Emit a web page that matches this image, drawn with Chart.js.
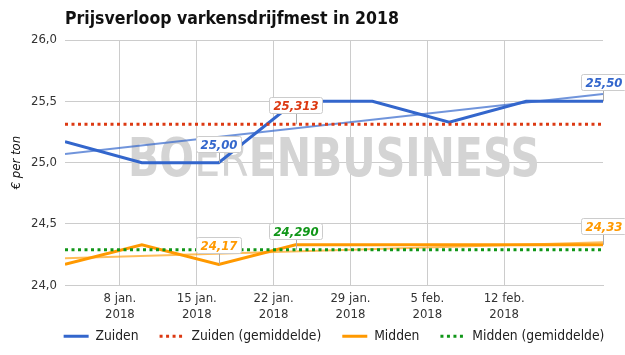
<!DOCTYPE html>
<html>
<head>
<meta charset="utf-8">
<script src="https://cdn.jsdelivr.net/npm/chart.js@4.4.1/dist/chart.umd.min.js"></script>
<style>
  html, body { margin: 0; padding: 0; background: #fff; }
  #wrap { width: 625px; height: 355px; }
</style>
</head>
<body>
<div id="wrap"><canvas id="chart"></canvas></div>
<script>
const FONT = '"DejaVu Sans Condensed", "DejaVu Sans", sans-serif';

// dagnummer in 2018 (1 = 1 jan.), wekelijkse noteringen
const weekDays = [3, 10, 17, 24, 31, 38, 45, 52];
const zuiden = [25.17, 25.00, 25.00, 25.50, 25.50, 25.33, 25.50, 25.50];
const midden = [24.17, 24.33, 24.17, 24.33, 24.33, 24.33, 24.33, 24.33];
const zuidenGem = 25.313;
const middenGem = 24.290;
const zuidenTrend = [25.07, 25.56];
const middenTrend = [24.22, 24.35];

const tickDays = [8, 15, 22, 29, 36, 43];
const tickLabels = [['8 jan.', '2018'], ['15 jan.', '2018'], ['22 jan.', '2018'], ['29 jan.', '2018'], ['5 feb.', '2018'], ['12 feb.', '2018']];

const colors = {
  zuiden: '#3366cc',
  zuidenGem: '#dc3912',
  midden: '#ff9900',
  middenGem: '#109618',
};

const first = weekDays[0];
const last = weekDays[weekDays.length - 1];
const toPoints = values => values.map((v, i) => ({ x: weekDays[i], y: v }));

// labels met waarde bij enkele punten
const callouts = [
  { day: weekDays[2], value: zuiden[2], decimals: 2, color: colors.zuiden },
  { day: weekDays[7], value: zuiden[7], decimals: 2, color: colors.zuiden },
  { day: weekDays[3], value: zuidenGem, decimals: 3, color: colors.zuidenGem },
  { day: weekDays[2], value: midden[2], decimals: 2, color: colors.midden },
  { day: weekDays[7], value: midden[7], decimals: 2, color: colors.midden },
  { day: weekDays[3], value: middenGem, decimals: 3, color: colors.middenGem },
];

const watermark = {
  id: 'watermark',
  beforeDatasetsDraw(chart) {
    const { ctx, chartArea } = chart;
    const parts = [['BO', 'bold'], ['ER', 'normal'], ['ENBUSINESS', 'bold']];
    ctx.save();
    let total = 0;
    parts.forEach(p => {
      ctx.font = `${p[1]} 54px ${FONT}`;
      total += ctx.measureText(p[0]).width;
    });
    const sx = 412 / total;
    const cx = (chartArea.left + chartArea.right) / 2;
    ctx.translate(cx - 206, 162);
    ctx.scale(sx, 1);
    ctx.fillStyle = '#d4d4d4';
    ctx.textBaseline = 'middle';
    let x = 0;
    parts.forEach(p => {
      ctx.font = `${p[1]} 54px ${FONT}`;
      ctx.fillText(p[0], x, 0);
      x += ctx.measureText(p[0]).width;
    });
    ctx.restore();
  },
};

const calloutPlugin = {
  id: 'callouts',
  afterDatasetsDraw(chart) {
    const { ctx } = chart;
    const xs = chart.scales.x;
    const ys = chart.scales.y;
    ctx.save();
    ctx.font = `italic bold 13px ${FONT}`;
    ctx.textAlign = 'center';
    ctx.textBaseline = 'middle';
    callouts.forEach(c => {
      const px = xs.getPixelForValue(c.day);
      const py = ys.getPixelForValue(c.value);
      const text = c.value.toFixed(c.decimals).replace('.', ',');
      const w = Math.round(ctx.measureText(text).width + 8);
      const h = 16;
      const bx = Math.round(px - w / 2) + 0.5;
      const by = Math.round(py - 11 - h) + 0.5;
      ctx.strokeStyle = '#aaa';
      ctx.lineWidth = 1;
      ctx.beginPath();
      ctx.moveTo(Math.round(px) + 0.5, by + h);
      ctx.lineTo(Math.round(px) + 0.5, py);
      ctx.stroke();
      ctx.fillStyle = '#fff';
      ctx.strokeStyle = '#ccc';
      ctx.beginPath();
      ctx.roundRect(bx, by, w, h, 2);
      ctx.fill();
      ctx.stroke();
      ctx.fillStyle = c.color;
      ctx.fillText(text, bx + w / 2, by + h / 2 + 1);
    });
    ctx.restore();
  },
};

// legenda centreren onder het plotvlak, x-as labels niet afknippen
const layoutFix = {
  id: 'layoutFix',
  afterLayout(chart) {
    const { chartArea, legend } = chart;
    const dx = (chartArea.left + chartArea.right) / 2 - (legend.left + legend.right) / 2;
    legend.left += dx;
    legend.right += dx;
    chart.scales.x.bottom += 20;
  },
};

new Chart(document.getElementById('chart').getContext('2d'), {
  type: 'line',
  data: {
    datasets: [{
      label: 'Zuiden',
      data: toPoints(zuiden),
      borderColor: colors.zuiden,
      borderWidth: 3,
      order: 4,
    }, {
      label: 'Zuiden (gemiddelde)',
      data: [{ x: first, y: zuidenGem }, { x: last, y: zuidenGem }],
      borderColor: colors.zuidenGem,
      borderWidth: 3,
      borderDash: [3, 3.5],
      order: 3,
    }, {
      label: 'Midden',
      data: toPoints(midden),
      borderColor: colors.midden,
      borderWidth: 3,
      order: 2,
    }, {
      label: 'Midden (gemiddelde)',
      data: [{ x: first, y: middenGem }, { x: last, y: middenGem }],
      borderColor: colors.middenGem,
      borderWidth: 3,
      borderDash: [3, 3.5],
      order: 1,
    }, {
      label: 'trend-zuiden',
      data: [{ x: first, y: zuidenTrend[0] }, { x: last, y: zuidenTrend[1] }],
      borderColor: 'rgba(51, 102, 204, 0.7)',
      borderWidth: 2,
      order: 6,
    }, {
      label: 'trend-midden',
      data: [{ x: first, y: middenTrend[0] }, { x: last, y: middenTrend[1] }],
      borderColor: 'rgba(255, 153, 0, 0.65)',
      borderWidth: 2,
      order: 5,
    }],
  },
  options: {
    responsive: true,
    maintainAspectRatio: false,
    animation: false,
    layout: { padding: { left: 0, right: 22, top: 0, bottom: 2 } },
    elements: {
      point: { radius: 0, hoverRadius: 0 },
      line: { tension: 0, fill: false },
    },
    scales: {
      x: {
        type: 'linear',
        min: first,
        max: last,
        afterBuildTicks: (scale) => { scale.ticks = tickDays.map(v => ({ value: v })); },
        afterFit: (scale) => { scale.height = 23; },
        grid: { color: '#ccc', drawTicks: false },
        border: { color: '#ccc' },
        ticks: {
          padding: 6,
          color: '#333',
          font: { family: FONT, size: 13 },
          maxRotation: 0,
          autoSkip: false,
          callback: (value) => tickLabels[tickDays.indexOf(value)],
        },
      },
      y: {
        min: 24,
        max: 26,
        afterFit: (scale) => { scale.width = 65; },
        grid: { color: '#ccc', drawTicks: false },
        border: { display: false },
        ticks: {
          stepSize: 0.5,
          padding: 8,
          color: '#333',
          font: { family: FONT, size: 13 },
          callback: (value) => value.toFixed(1).replace('.', ','),
        },
        title: {
          display: true,
          text: '€ per ton',
          color: '#111',
          padding: { top: 9, bottom: 0 },
          font: { family: FONT, size: 13, style: 'italic' },
        },
      },
    },
    plugins: {
      title: {
        display: true,
        text: 'Prijsverloop varkensdrijfmest in 2018',
        align: 'start',
        fullSize: false,
        color: '#111',
        padding: { top: 9, bottom: 10 },
        font: { family: FONT, size: 17.5, weight: 'bold', lineHeight: 1.2 },
      },
      legend: {
        position: 'bottom',
        align: 'center',
        labels: {
          usePointStyle: true,
          pointStyle: 'line',
          pointStyleWidth: 25,
          padding: 21,
          color: '#222',
          font: { family: FONT, size: 13.75 },
          generateLabels: (chart) => Chart.defaults.plugins.legend.labels.generateLabels(chart).map(item => {
            const ds = chart.data.datasets[item.datasetIndex];
            item.strokeStyle = ds.borderColor;
            item.lineWidth = ds.borderWidth;
            item.lineDash = ds.borderDash || [];
            item.lineCap = 'butt';
            return item;
          }),
          filter: item => !item.text.startsWith('trend'),
          sort: (a, b) => a.datasetIndex - b.datasetIndex,
        },
      },
      tooltip: { enabled: false },
    },
  },
  plugins: [watermark, calloutPlugin, layoutFix],
});
</script>
</body>
</html>
